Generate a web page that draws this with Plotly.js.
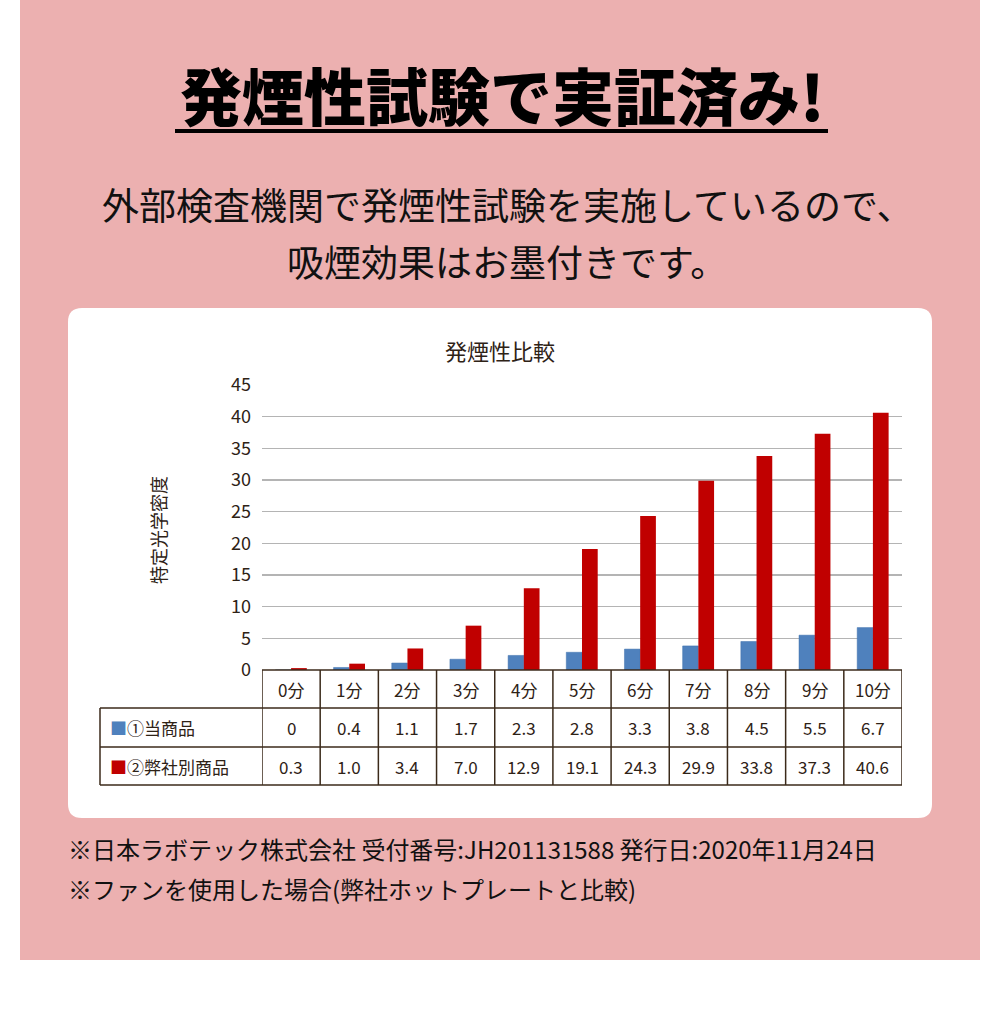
<!DOCTYPE html>
<html>
<head>
<meta charset="utf-8">
<script src="https://cdn.plot.ly/plotly-3.0.1.min.js"></script>
<style>
  html, body { margin: 0; padding: 0; background: #fff; }
  #chart { width: 1000px; height: 1020px; }
</style>
</head>
<body>
<div id="chart"></div>
<script>
// chart data
const minutes = ['0分', '1分', '2分', '3分', '4分', '5分', '6分', '7分', '8分', '9分', '10分'];
const ourProduct = [0, 0.4, 1.1, 1.7, 2.3, 2.8, 3.3, 3.8, 4.5, 5.5, 6.7];
const otherProduct = [0.3, 1.0, 3.4, 7.0, 12.9, 19.1, 24.3, 29.9, 33.8, 37.3, 40.6];
const seriesNames = ['①当商品', '②弊社別商品'];
const ourLabels = ['0', '0.4', '1.1', '1.7', '2.3', '2.8', '3.3', '3.8', '4.5', '5.5', '6.7'];
const otherLabels = ['0.3', '1.0', '3.4', '7.0', '12.9', '19.1', '24.3', '29.9', '33.8', '37.3', '40.6'];

const BLUE = '#4f81bd';
const RED = '#c00000';
const INK = '#2e2216';
const FONT = '"Noto Sans CJK JP", "Noto Sans", sans-serif';

// pixel -> paper helpers
const W = 1000, H = 1020;
const px = x => x / W;
const py = y => 1 - y / H;

const traces = [
    {
        type: 'bar',
        x: minutes,
        y: ourProduct,
        name: seriesNames[0],
        marker: { color: BLUE, line: { color: '#3f70ad', width: 0.5 } },
        hoverinfo: 'x+y'
    },
    {
        type: 'bar',
        x: minutes,
        y: otherProduct,
        name: seriesNames[1],
        marker: { color: RED },
        hoverinfo: 'x+y'
    }
];

const shapes = [];
const annotations = [];

// pink background panel
shapes.push({
    type: 'rect', xref: 'paper', yref: 'paper', layer: 'below',
    x0: px(20), x1: px(980), y0: py(960), y1: py(0),
    fillcolor: '#ecb0b0', line: { width: 0 }
});

// white rounded card
function roundRect(x0, y0, x1, y1, r) {
    const a = px(x0), b = px(x1), t = py(y0), btm = py(y1);
    const rx = r / W, ry = r / H;
    return `M ${a + rx},${t} L ${b - rx},${t} Q ${b},${t} ${b},${t - ry} ` +
        `L ${b},${btm + ry} Q ${b},${btm} ${b - rx},${btm} ` +
        `L ${a + rx},${btm} Q ${a},${btm} ${a},${btm + ry} ` +
        `L ${a},${t - ry} Q ${a},${t} ${a + rx},${t} Z`;
}
shapes.push({
    type: 'path', xref: 'paper', yref: 'paper', layer: 'below',
    path: roundRect(68, 308, 932, 818, 14),
    fillcolor: '#ffffff', line: { width: 0 }
});

// title underline
shapes.push({
    type: 'line', xref: 'paper', yref: 'paper',
    x0: px(175), x1: px(828), y0: py(131), y1: py(131),
    line: { color: '#000', width: 4 }
});

// data table under the chart
const tableLine = { color: '#3b2a1a', width: 1.5 };
const rowTop = 670, row1 = 708, row2 = 747, rowBottom = 785;
const labelLeft = 100;
const n = minutes.length;

// header row top (x axis line)
shapes.push({ type: 'line', xref: 'x', yref: 'paper', x0: -0.5, x1: n - 0.5, y0: py(rowTop), y1: py(rowTop), line: tableLine });
[row1, row2, rowBottom].forEach(y => {
    shapes.push({ type: 'line', xref: 'paper', yref: 'paper', x0: px(labelLeft), x1: px(902), y0: py(y), y1: py(y), line: tableLine });
});
shapes.push({ type: 'line', xref: 'paper', yref: 'paper', x0: px(labelLeft), x1: px(labelLeft), y0: py(row1), y1: py(rowBottom), line: tableLine });
for (let i = 0; i <= n; i++) {
    shapes.push({ type: 'line', xref: 'x', yref: 'paper', x0: i - 0.5, x1: i - 0.5, y0: py(rowTop), y1: py(rowBottom), line: tableLine });
}

function note(opts) {
    annotations.push(Object.assign({ showarrow: false, xanchor: 'center', yanchor: 'middle' }, opts));
}

const cellFont = { family: FONT, size: 17, color: INK };
minutes.forEach((m, i) => {
    note({ xref: 'x', yref: 'paper', x: i, y: py((rowTop + row1) / 2), text: m, font: cellFont });
    note({ xref: 'x', yref: 'paper', x: i, y: py((row1 + row2) / 2), text: ourLabels[i], font: cellFont });
    note({ xref: 'x', yref: 'paper', x: i, y: py((row2 + rowBottom) / 2), text: otherLabels[i], font: cellFont });
});
note({
    xref: 'paper', yref: 'paper', x: px(108), y: py((row1 + row2) / 2), xanchor: 'left',
    text: `<span style="color:${BLUE}">■</span>${seriesNames[0]}`, font: cellFont
});
note({
    xref: 'paper', yref: 'paper', x: px(108), y: py((row2 + rowBottom) / 2), xanchor: 'left',
    text: `<span style="color:${RED}">■</span>${seriesNames[1]}`, font: cellFont
});

// page texts
note({
    xref: 'paper', yref: 'paper', x: 0.502, y: py(94), text: '発煙性試験で実証済み!',
    font: { family: FONT, size: 62, color: '#000', weight: 900 }
});
note({
    xref: 'paper', yref: 'paper', x: 0.507, y: py(204), text: '外部検査機関で発煙性試験を実施しているので、',
    font: { family: FONT, size: 37, color: '#111' }
});
note({
    xref: 'paper', yref: 'paper', x: 0.507, y: py(261), text: '吸煙効果はお墨付きです。',
    font: { family: FONT, size: 37, color: '#111' }
});
note({
    xref: 'paper', yref: 'paper', x: 0.5, y: py(350), text: '発煙性比較',
    font: { family: FONT, size: 22, color: INK }
});
note({
    xref: 'paper', yref: 'paper', x: px(158), y: py(530), text: '特定光学密度', textangle: -90,
    font: { family: FONT, size: 18, color: INK }
});
note({
    xref: 'paper', yref: 'paper', x: px(66), y: py(848), xanchor: 'left',
    text: '※日本ラボテック株式会社 受付番号:JH201131588 発行日:2020年11月24日',
    font: { family: FONT, size: 24, color: '#111' }
});
note({
    xref: 'paper', yref: 'paper', x: px(66), y: py(888), xanchor: 'left',
    text: '※ファンを使用した場合(弊社ホットプレートと比較)',
    font: { family: FONT, size: 24, color: '#111' }
});

const layout = {
    width: W,
    height: H,
    margin: { l: 0, r: 0, t: 0, b: 0 },
    paper_bgcolor: '#ffffff',
    plot_bgcolor: 'rgba(0,0,0,0)',
    showlegend: false,
    barmode: 'group',
    bargap: 0.46,
    bargroupgap: 0,
    font: { family: FONT, color: INK },
    xaxis: {
        domain: [px(262), px(902)],
        type: 'category',
        categoryorder: 'array',
        categoryarray: minutes,
        range: [-0.5, n - 0.5],
        showticklabels: false,
        showgrid: false,
        zeroline: false,
        showline: false,
        ticks: '',
        fixedrange: true
    },
    yaxis: {
        domain: [py(670), py(385)],
        range: [0, 45],
        dtick: 5,
        showgrid: true,
        gridcolor: '#b4b4b4',
        gridwidth: 1.5,
        zeroline: false,
        showline: false,
        ticks: '',
        ticklabelstandoff: 10,
        tickfont: { family: FONT, size: 18, color: INK },
        fixedrange: true
    },
    shapes: shapes,
    annotations: annotations
};

Plotly.newPlot('chart', traces, layout, { displayModeBar: false, staticPlot: true });
</script>
</body>
</html>
